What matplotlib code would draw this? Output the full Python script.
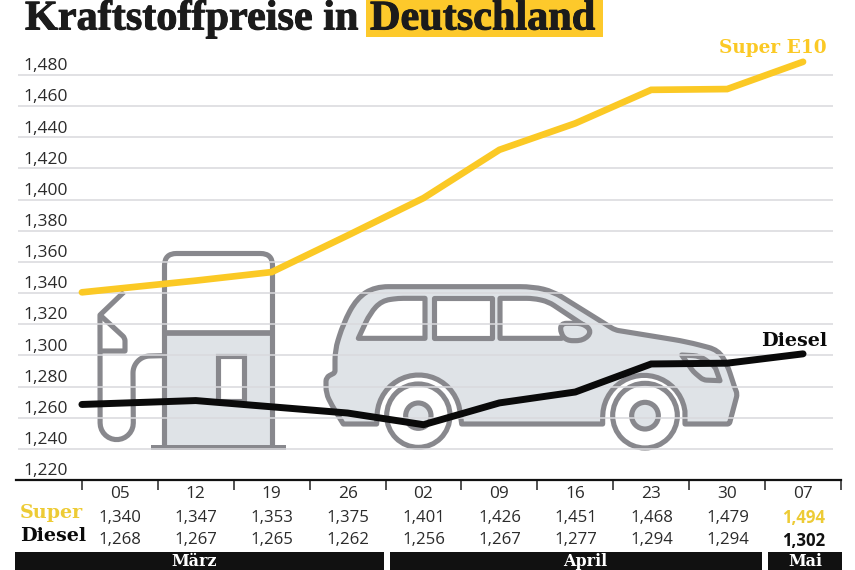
import numpy as np
import matplotlib
matplotlib.use("Agg")
import matplotlib.pyplot as plt
from matplotlib.path import Path
from matplotlib.patches import PathPatch, Rectangle, Circle
from matplotlib.transforms import ScaledTranslation
import matplotlib.patheffects as pe

# ---- data ----
week_labels = ["05", "12", "19", "26", "02", "09", "16", "23", "30", "07"]
super_table = [1340, 1347, 1353, 1375, 1401, 1426, 1451, 1468, 1479, 1494]
diesel_table = [1268, 1267, 1265, 1262, 1256, 1267, 1277, 1294, 1294, 1302]
line_weeks = [-0.5, 1, 2, 3, 4, 5, 6, 7, 8, 9]
super_line = [1340.5, 1348, 1353.5, 1377, 1401, 1432, 1449, 1470.5, 1471, 1488.5]
diesel_line = [1268.5, 1271, 1267, 1263, 1255.5, 1269.5, 1276.5, 1294.5, 1295, 1301]
y_ticks = [1220, 1240, 1260, 1280, 1300, 1320, 1340, 1360, 1380, 1400, 1420, 1440, 1460, 1480]
months = ["März", "April", "Mai"]

W, H = 855, 570
YEL = "#FBC925"
LABEL_YEL = "#EDCB35"
GREY = "#88888D"
FILL = "#DFE3E7"
GRID = "#D9D9DD"
TXT = "#2B2B2B"
SANS = ["Open Sans", "DejaVu Sans"]
SLAB = ["DejaVu Serif"]

fig = plt.figure(figsize=(W / 100, H / 100), dpi=100, facecolor="white")

bg = fig.add_axes([0, 0, 1, 1], zorder=0)
bg.set_xlim(0, W)
bg.set_ylim(H, 0)
bg.axis("off")

LW = 3.7


def rounded(pts, closed=True):
    n = len(pts)
    verts, codes = [], []
    for i in range(n):
        x, y, r = pts[i]
        p = np.array([x, y], float)
        if (not closed and (i == 0 or i == n - 1)) or r == 0:
            verts.append(p)
            codes.append(Path.LINETO)
            continue
        a = np.array(pts[(i - 1) % n][:2], float)
        b = np.array(pts[(i + 1) % n][:2], float)
        u = (a - p) / np.linalg.norm(a - p)
        v = (b - p) / np.linalg.norm(b - p)
        r1 = min(r, np.linalg.norm(a - p) * 0.5)
        r2 = min(r, np.linalg.norm(b - p) * 0.5)
        verts += [p + u * r1, p, p + v * r2]
        codes += [Path.LINETO, Path.CURVE3, Path.CURVE3]
    codes[0] = Path.MOVETO
    if closed:
        verts.append(verts[0])
        codes.append(Path.CLOSEPOLY)
    return Path(verts, codes)


def shape(pts, fc="none", closed=True, lw=LW, z=2):
    bg.add_patch(PathPatch(rounded(pts, closed), fc=fc, ec=GREY, lw=lw,
                           joinstyle="round", capstyle="butt", zorder=z))


def circ(cx, cy, r, a0, a1, n=16):
    t = np.radians(np.linspace(a0, a1, n))
    return [(cx + r * np.cos(q), cy - r * np.sin(q), 0) for q in t]


# pump
bg.add_patch(Rectangle((165, 333), 108, 114, fc=FILL, ec="none", zorder=1))
shape([(164.5, 447, 0), (164.5, 253.5, 12), (272.5, 253.5, 12), (272.5, 447, 0)], closed=False)
bg.plot([164, 273], [333, 333], color=GREY, lw=LW + 0.4, zorder=2, solid_capstyle="butt")
bg.add_patch(Rectangle((151, 444.5), 135, 5, fc=GREY, ec="none", zorder=2))
bg.add_patch(Rectangle((218, 356), 26, 45, fc="white", ec=GREY, lw=LW, zorder=2))
hose = [(162, 355.7, 0)] + circ(150, 373, 17, 90, 180) + circ(116.7, 423, 16.6, 0, -180) + [(100, 315, 0), (124, 292, 0)]
shape(hose, closed=False)
shape([(100, 315, 0), (125, 338, 3), (125, 351, 0), (100, 351, 0)], closed=False)


def Z(x, y, r=0):
    return (320 + x / 3, 270 + y / 3, r / 3)


def arch(cx, r, a0, a1, n=24):
    t = np.radians(np.linspace(a0, a1, n))
    return [Z(cx + r * np.cos(q), 440 - r * np.sin(q)) for q in t]


car = [Z(70, 462, 0), Z(35, 405, 25), Z(18, 370, 20), Z(18, 322, 12), Z(45, 308, 6),
       Z(45, 240, 30), Z(70, 160, 40), Z(110, 85, 50), Z(165, 50, 40), Z(640, 50, 40),
       Z(700, 65, 30), Z(885, 180, 12), Z(1100, 215, 40), Z(1195, 240, 30), Z(1222, 285, 25),
       Z(1245, 355, 8), Z(1252, 372, 10), Z(1228, 462, 6), Z(1095, 462, 0)]
car += arch(972, 124, 0, 180)[1:]
car += [Z(848, 462, 0), Z(425, 462, 0)]
car += arch(296, 125, 0, 180)[1:]
car += [Z(170, 462, 0)]
shape(car, fc=FILL, z=2)

win_rear = [Z(115, 205), Z(150, 130, 30), Z(185, 92, 30), Z(235, 85, 15), Z(315, 85), Z(315, 205)]
win_mid = [Z(343, 85), Z(515, 85), Z(515, 205), Z(343, 205)]
win_front = [Z(540, 85), Z(640, 85, 20), Z(685, 95, 20), Z(790, 165), Z(725, 205), Z(540, 205)]
for w in (win_rear, win_mid, win_front):
    shape(w, fc="white", z=3)
mirror = [Z(722, 160, 18), Z(790, 160, 22), Z(816, 185, 20), Z(790, 212, 22), Z(740, 212, 18), Z(722, 190, 14)]
shape(mirror, fc=FILL, z=4)
lamp = [Z(1085, 255), Z(1140, 258, 20), Z(1185, 290, 10), Z(1200, 332), Z(1150, 330, 10), Z(1120, 305, 10)]
shape(lamp, fc=FILL, z=3)

for cx, r1, r2 in ((295, 95, 38), (975, 97, 40)):
    px, py, _ = Z(cx, 437)
    bg.add_patch(Circle((px, py), r1 / 3, fc="white", ec=GREY, lw=LW, zorder=3))
    bg.add_patch(Circle((px, py), r2 / 3, fc=FILL, ec=GREY, lw=LW, zorder=4))

# title
bg.add_patch(Rectangle((366, 0), 237, 37, fc="#FDC92B", ec="none", zorder=1))
heavy = [pe.withStroke(linewidth=0.7, foreground="#1B1B1B")]
bg.text(25, 29.5, "Kraftstoffpreise in", family=["Liberation Serif"], weight="bold",
        fontsize=30.4, color="#1B1B1B", zorder=5, path_effects=heavy)
bg.text(370, 29.5, "Deutschland", family=["Liberation Serif"], weight="bold",
        fontsize=30.4, color="#1B1B1B", zorder=5, path_effects=heavy)

# data layer
ax_left, ax_right, ax_top, ax_bottom = 16, 841, 40, 480
ax = fig.add_axes([ax_left / W, 1 - ax_bottom / H, (ax_right - ax_left) / W, (ax_bottom - ax_top) / H],
                  zorder=1)
ax.patch.set_alpha(0)
ax.set_xlim((ax_left - 120) / 76, (ax_right - 120) / 76)
ax.set_ylim(1220, 1220 + (ax_bottom - ax_top) / 1.5575)
for s in ("top", "left", "right"):
    ax.spines[s].set_visible(False)
ax.spines["bottom"].set_linewidth(1.6)
ax.spines["bottom"].set_color("#111111")

ax.hlines(y_ticks[1:], 0.003, 0.99, transform=ax.get_yaxis_transform(), color=GRID, lw=1.1, zorder=1)
ax.set_yticks(y_ticks)
ax.set_yticklabels([f"{v / 1000:.3f}".replace(".", ",") for v in y_ticks],
                   family=SANS, fontsize=12.5, color=TXT, ha="left", va="bottom")
ax.tick_params(axis="y", length=0, pad=-5.6)
up = ScaledTranslation(0, 0.6 / 72, fig.dpi_scale_trans)
for lab in ax.get_yticklabels():
    lab.set_transform(lab.get_transform() + up)

centers = np.arange(len(week_labels))
ax.set_xticks(np.arange(len(week_labels) + 1) - 0.5)
ax.set_xticklabels([])
ax.set_xticks(centers, minor=True)
ax.set_xticklabels(week_labels, minor=True, family=SANS, fontsize=12.4, color=TXT)
ax.tick_params(axis="x", which="major", length=7.5, width=1.1, color="#222222")
ax.tick_params(axis="x", which="minor", length=0, pad=4)

ax.plot(line_weeks, super_line, color=YEL, lw=4.8, solid_capstyle="round",
        solid_joinstyle="miter", zorder=4, clip_on=False)
ax.plot(line_weeks, diesel_line, color="#0A0A0A", lw=5.0, solid_capstyle="round",
        solid_joinstyle="miter", zorder=5, clip_on=False)

fmt = lambda v: f"{v / 1000:.3f}".replace(".", ",")
for i, (s, d) in enumerate(zip(super_table, diesel_table)):
    last = i == len(super_table) - 1
    px = 120 + 76 * i
    bg.text(px, 518, fmt(s), ha="center", va="center", family=SANS, fontsize=12.1,
            color=LABEL_YEL if last else TXT, weight="bold" if last else "normal")
    bg.text(px, 540.5, fmt(d), ha="center", va="center", family=SANS, fontsize=12.1,
            color="#111111" if last else TXT, weight="bold" if last else "normal")

bg.text(20, 513, "Super", family=SLAB, weight="bold", fontsize=13.8, color=LABEL_YEL, va="center")
bg.text(20, 536, "Diesel", family=SLAB, weight="bold", fontsize=13.8, color="#0A0A0A", va="center")
bg.text(827, 48, "Super E10", family=SLAB, weight="bold", fontsize=13.3, color=YEL, ha="right", va="center")
bg.text(827, 341, "Diesel", family=SLAB, weight="bold", fontsize=13.8, color="#0A0A0A", ha="right", va="center")

# month bars
spans = [(15, 384), (390, 762), (768, 842)]
label_x = [194, 585, 805]
for name, (a, b), lx in zip(months, spans, label_x):
    bg.add_patch(Rectangle((a, 552), b - a, 18, fc="#111111", ec="none", zorder=2))
    bg.text(lx, 566, name, family=SLAB, weight="bold", fontsize=11.5, color="white",
            ha="center", va="baseline", zorder=3)

fig.savefig("out.png", dpi=100, facecolor="white")
